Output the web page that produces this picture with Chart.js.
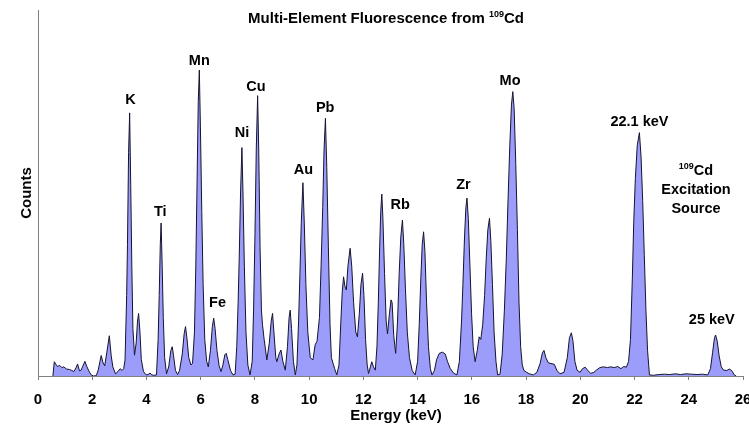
<!DOCTYPE html>
<html>
<head>
<meta charset="utf-8">
<script src="https://cdn.jsdelivr.net/npm/chart.js@4.4.1/dist/chart.umd.min.js"></script>
<style>
  html, body { margin: 0; padding: 0; background: #fff; }
</style>
</head>
<body>
<canvas id="spectrum" width="749" height="424"></canvas>
<script>
// spectrum, energy in keV, counts in % of full scale
const energyKeV = [
  0.55, 0.60, 0.66, 0.72, 0.80, 0.88, 0.95, 1.05, 1.15, 1.25, 1.32, 1.40, 1.46, 1.53, 1.59, 1.66, 1.73, 1.80, 1.88, 1.96, 2.05, 2.15,
  2.22, 2.33, 2.40, 2.46, 2.54, 2.63, 2.70, 2.76, 2.86, 2.95, 3.03, 3.10, 3.16,
  3.21, 3.27, 3.30, 3.34, 3.38, 3.42, 3.46, 3.50, 3.56,
  3.62, 3.67, 3.71, 3.76, 3.81, 3.89, 3.99, 4.06, 4.13, 4.20, 4.27,
  4.37, 4.43, 4.47, 4.51, 4.54, 4.58, 4.62, 4.67, 4.74,
  4.82, 4.90, 4.95, 5.00, 5.07, 5.15, 5.22, 5.32, 5.39, 5.44, 5.49, 5.56, 5.64,
  5.70, 5.77, 5.82, 5.86, 5.91, 5.95, 5.99, 6.04, 6.09, 6.15, 6.22, 6.28,
  6.36, 6.43, 6.48, 6.53, 6.60, 6.68, 6.75, 6.82, 6.89, 6.94, 7.00, 7.10, 7.19, 7.27,
  7.33, 7.38, 7.42, 7.47, 7.52, 7.56, 7.61, 7.67, 7.74, 7.82,
  7.90, 7.95, 8.00, 8.05, 8.10, 8.14, 8.19, 8.24, 8.28, 8.34, 8.44,
  8.53, 8.60, 8.65, 8.70, 8.77, 8.81, 8.89, 8.96, 9.03, 9.12, 9.20, 9.26, 9.30, 9.35, 9.42, 9.49,
  9.55, 9.61, 9.66, 9.71, 9.77, 9.82, 9.88, 9.95, 10.04, 10.14, 10.22, 10.29,
  10.38, 10.44, 10.50, 10.55, 10.60, 10.65, 10.71, 10.77, 10.82, 10.88, 10.94, 11.02,
  11.10, 11.17, 11.22, 11.27, 11.32, 11.37, 11.43, 11.51, 11.57, 11.64, 11.72, 11.78,
  11.85, 11.91, 11.97, 12.02, 12.08, 12.14, 12.19, 12.26, 12.31, 12.37, 12.44,
  12.50, 12.55, 12.60, 12.64, 12.68, 12.72, 12.78, 12.84, 12.89, 12.96, 13.02, 13.06, 13.12, 13.19,
  13.26, 13.32, 13.38, 13.44, 13.49, 13.55, 13.62, 13.70, 13.80, 13.91,
  14.00, 14.06, 14.12, 14.17, 14.22, 14.27, 14.33, 14.40, 14.47, 14.53,
  14.62, 14.70, 14.80, 14.92, 15.02, 15.10, 15.20, 15.32, 15.45,
  15.54, 15.62, 15.67, 15.73, 15.78, 15.82, 15.87, 15.93, 15.99, 16.05, 16.12, 16.20, 16.27, 16.33, 16.40,
  16.47, 16.53, 16.59, 16.65, 16.70, 16.76, 16.82, 16.89, 16.95,
  17.04, 17.12, 17.20, 17.27, 17.33, 17.40, 17.46, 17.51, 17.56, 17.62, 17.68, 17.74, 17.80, 17.86, 17.92, 18.02, 18.12, 18.27,
  18.40, 18.52, 18.60, 18.66, 18.73, 18.82, 18.92, 19.04, 19.14, 19.25,
  19.40, 19.52, 19.60, 19.67, 19.73, 19.80, 19.88, 19.99, 20.08, 20.18, 20.28, 20.38,
  20.50, 20.61, 20.72, 20.85, 21.00, 21.12, 21.25, 21.38, 21.50, 21.60, 21.70, 21.78,
  21.85, 21.92, 21.97, 22.03, 22.10, 22.18, 22.24, 22.30, 22.36, 22.42, 22.48, 22.55,
  22.70, 22.90, 23.10, 23.30, 23.50, 23.70, 23.90, 24.10, 24.30, 24.50, 24.70,
  24.80, 24.88, 24.95, 24.99, 25.05, 25.12, 25.20, 25.28, 25.40, 25.50, 25.58, 25.68, 25.75
];
const counts = [
  0, 3.9, 3.2, 2.6, 2.9, 2.3, 2.5, 1.9, 1.8, 1.5, 1.2, 2.2, 3.3, 1.4, 1.6, 2.8, 4.0, 2.6, 1.3, 0.3, 0, 0.1,
  1.6, 5.6, 3.6, 2.8, 6.5, 11.0, 5.5, 2.5, 0.6, 1.2, 2.0, 1.5, 2.0,
  4.4, 22, 36, 61, 71.9, 52, 30, 13, 5.7,
  9, 15, 17.1, 12, 4.5, 1.2, 0.3, 0.4, 0.8, 0.3, 0.2,
  0.3, 10, 22, 36, 41.8, 30, 16, 5, 0.6,
  2.5, 7, 8.0, 5.5, 1.5, 0.4, 1.5, 6, 11.5, 13.5, 10.5, 5, 3.0,
  3.5, 12, 30, 50, 75, 83.6, 68, 45, 25, 10, 4, 2.5,
  7, 13.5, 15.8, 13, 7, 2.8, 1.2, 3, 5.8, 6.2, 4.5, 1.5, 0.3, 0.5,
  8, 20, 32, 50, 62.4, 50, 30, 12, 3, 0.3,
  4, 18, 38, 62, 76.6, 62, 35, 18, 14, 10, 4.4,
  9, 15, 17.1, 12, 5, 3.9, 6, 7.1, 4, 1.6, 8, 16, 18.0, 13, 4, 0.3,
  3, 15, 28, 42, 52.8, 42, 25, 12, 5, 4.4, 8.5, 9.5,
  16, 30, 46, 62, 70.4, 57, 35, 14, 5, 3.5, 2, 0.3,
  3, 15, 23, 27.1, 24.5, 23.5, 30, 34.9, 30, 20, 12, 10.7,
  17, 25, 28.1, 22, 10, 3, 0.7, 2.5, 3.9, 2.5, 1.6,
  8, 20, 35, 45, 49.7, 43, 28, 15, 11.5, 17, 20.8, 20, 11, 6.2,
  15, 28, 38, 42.6, 36, 24, 12, 5, 1.5, 0.3,
  4, 14, 27, 36, 39.4, 34, 20, 8, 2, 0.3,
  1.5, 4.5, 6.2, 6.5, 6.0, 4, 2.1, 0.8, 0.3,
  4, 15, 25, 38, 46, 48.6, 43, 30, 17, 8, 3.9, 7, 10.7, 10, 14,
  22, 32, 40, 43.1, 37, 25, 12, 4, 0.3,
  0.5, 6, 18, 32, 47, 63, 74, 77.7, 73, 58, 40, 20, 8, 3, 1.5, 1.0, 0.6, 0.3,
  1, 3.5, 6.3, 7.0, 5, 3.6, 3.4, 3.2, 1.5, 0.6,
  1, 5, 10.5, 11.8, 9.5, 4, 1.6, 1.0, 2, 2.4, 1.5, 0.7,
  1.0, 1.7, 2.3, 2.5, 2.3, 2.5, 2.3, 2.6, 2.0, 2.6, 2.4, 4.0,
  10, 27, 42, 54, 63, 66.5, 60, 48, 33, 18, 7, 0.3,
  0.2, 0.4, 0.5, 0.4, 0.6, 0.4, 0.6, 0.5, 0.4, 0.5, 0.3,
  2, 6.5, 10.5, 11.2, 9.5, 5.5, 2.5, 1.6, 1.5, 1.9, 1.5, 0.3, 0
];
const xTickValues = [0, 2, 4, 6, 8, 10, 12, 14, 16, 18, 20, 22, 24, 26];

// peak labels, anchored at (energy, counts) of the text centre
const labelText = ["K", "Ti", "Mn", "Fe", "Ni", "Cu", "Au", "Pb", "Rb", "Zr", "Mo", "22.1 keV", "25 keV"];
const labelEnergy = [3.41, 4.51, 5.95, 6.62, 7.52, 8.04, 9.79, 10.59, 13.36, 15.69, 17.41, 22.18, 24.85];
const labelCounts = [75.4, 44.9, 86.1, 19.9, 66.3, 79.0, 56.3, 73.1, 46.7, 52.2, 80.7, 69.5, 15.3];

const FONT = '"Liberation Sans", Arial, sans-serif';

// draws a line made of normal and superscript parts, centred on cx
const drawParts = (ctx, parts, cx, cy, size) => {
  const supSize = Math.round(size * 0.62);
  const widths = parts.map((p) => {
    ctx.font = `bold ${p.sup ? supSize : size}px ${FONT}`;
    return ctx.measureText(p.text).width;
  });
  let x = cx - widths.reduce((a, w) => a + w, 0) / 2;
  ctx.textAlign = "left";
  parts.forEach((p, i) => {
    ctx.font = `bold ${p.sup ? supSize : size}px ${FONT}`;
    ctx.fillText(p.text, x, p.sup ? cy - size * 0.32 : cy);
    x += widths[i];
  });
};

const spectrumText = {
  id: "spectrumText",
  afterDraw(chart) {
    const { ctx, scales } = chart;
    ctx.save();
    ctx.fillStyle = "#000";
    ctx.textBaseline = "middle";

    ctx.textAlign = "center";
    ctx.font = `bold 14.5px ${FONT}`;
    labelText.forEach((t, i) => {
      ctx.fillText(t, scales.x.getPixelForValue(labelEnergy[i]), scales.y.getPixelForValue(labelCounts[i]));
    });

    drawParts(ctx, [{ text: "Multi-Element Fluorescence from " }, { text: "109", sup: true }, { text: "Cd" }], 386, 19, 15);

    drawParts(ctx, [{ text: "109", sup: true }, { text: "Cd" }], 696, 171, 14.5);
    ctx.textAlign = "center";
    ctx.font = `bold 14.5px ${FONT}`;
    ctx.fillText("Excitation", 696, 190);
    ctx.fillText("Source", 696, 209);

    ctx.font = `bold 15px ${FONT}`;
    ctx.fillText("Energy (keV)", 396, 416);
    ctx.translate(27, 193);
    ctx.rotate(-Math.PI / 2);
    ctx.fillText("Counts", 0, 0);
    ctx.restore();
  },
};

const chart = new Chart(document.getElementById("spectrum"), {
  type: "line",
  data: {
    datasets: [
      {
        label: "Counts",
        data: energyKeV.map((e, i) => ({ x: e, y: counts[i] })),
        borderColor: "#141430",
        borderWidth: 1,
        backgroundColor: "#9c9cfa",
        fill: "origin",
        tension: 0,
        pointRadius: 0,
      },
    ],
  },
  options: {
    responsive: false,
    animation: false,
    layout: { padding: { top: 10, right: 6, left: 0, bottom: 0 } },
    plugins: {
      legend: { display: false },
      title: { display: false },
      tooltip: { enabled: false },
    },
    scales: {
      x: {
        type: "linear",
        min: 0,
        max: 26,
        afterBuildTicks: (scale) => {
          scale.ticks = xTickValues.map((v) => ({ value: v }));
        },
        ticks: {
          autoSkip: false,
          maxRotation: 0,
          padding: 11,
          color: "#000",
          font: { family: FONT, size: 15, weight: "bold" },
        },
        grid: { drawOnChartArea: false, tickLength: 4, color: "#808080" },
        border: { color: "#808080" },
        afterFit: (scale) => {
          scale.height = 48;
          scale.paddingLeft = 0;
          scale.paddingRight = 0;
        },
      },
      y: {
        min: 0,
        max: 100,
        ticks: { display: false },
        grid: { display: false },
        border: { color: "#808080" },
        afterFit: (scale) => {
          scale.width = 38;
          scale.paddingTop = 0;
          scale.paddingBottom = 0;
        },
      },
    },
  },
  plugins: [spectrumText],
});
</script>
</body>
</html>
